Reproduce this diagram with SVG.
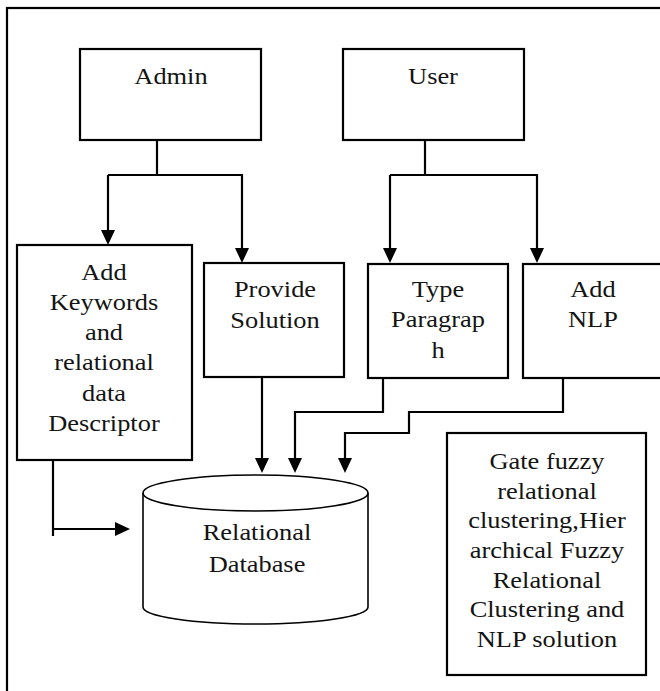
<svg xmlns="http://www.w3.org/2000/svg" width="660" height="691" viewBox="0 0 660 691">
  <style>
    .box { fill: #ffffff; stroke: #000000; stroke-width: 2.2; }
    .frame { fill: none; stroke: #000000; stroke-width: 2.2; }
    .db { fill: #ffffff; stroke: #000000; stroke-width: 1.6; }
    .wire { fill: none; stroke: #000000; stroke-width: 2.2; }
    .arrow { fill: none; stroke: #000000; stroke-width: 2.2; marker-end: url(#head); }
    text { font-family: "Liberation Serif", "Times New Roman", serif; font-size: 24px; fill: #141414; text-anchor: middle; }
  </style>
  <defs>
    <marker id="head" markerUnits="userSpaceOnUse" markerWidth="16" markerHeight="16" refX="5" refY="7" orient="auto">
      <path d="M0,0 L15,7 L0,14 z" fill="#000000"/>
    </marker>
  </defs>

  <rect width="660" height="691" fill="#ffffff"/>
  <!-- outer frame (runs off the right and bottom edges) -->
  <rect class="frame" x="7" y="8" width="680" height="700"/>

  <!-- connectors -->
  <g id="connectors">
    <!-- Admin fan-out -->
    <polyline class="wire" points="157,140 157,175"/>
    <polyline class="arrow" points="108,175 108,235"/>
    <polyline class="arrow" points="108,175 242,175 242,253"/>
    <!-- User fan-out -->
    <polyline class="wire" points="425,140 425,175"/>
    <polyline class="arrow" points="390,175 390,253"/>
    <polyline class="arrow" points="390,175 537,175 537,253"/>
    <!-- into the database -->
    <polyline class="arrow" points="262,377 262,463"/>
    <polyline class="arrow" points="383,378 383,412 295,412 295,463"/>
    <polyline class="arrow" points="563,378 563,412 409,412 409,433 345,433 345,463"/>
    <polyline class="wire" points="53,460 53,536"/>
    <polyline class="arrow" points="53,529 120,529"/>
  </g>

  <g id="admin">
    <rect class="box" x="80" y="49" width="181" height="91"/>
    <g transform="matrix(1.1 0 0 1 -17.1 0)">
      <text x="171" y="84">Admin</text>
    </g>
  </g>

  <g id="user">
    <rect class="box" x="343" y="49" width="181" height="91"/>
    <g transform="matrix(1.1 0 0 1 -43.3 0)">
      <text x="433" y="84">User</text>
    </g>
  </g>

  <g id="add-keywords">
    <rect class="box" x="17" y="245" width="175" height="215"/>
    <g transform="matrix(1.1 0 0 1 -10.4 0)">
      <text x="104" y="280">Add</text>
      <text x="104" y="310">Keywords</text>
      <text x="104" y="340">and</text>
      <text x="104" y="370">relational</text>
      <text x="104" y="401">data</text>
      <text x="104" y="431">Descriptor</text>
    </g>
  </g>

  <g id="provide-solution">
    <rect class="box" x="204" y="263" width="140" height="114"/>
    <g transform="matrix(1.1 0 0 1 -27.5 0)">
      <text x="275" y="297">Provide</text>
      <text x="275" y="328">Solution</text>
    </g>
  </g>

  <g id="type-paragraph">
    <rect class="box" x="368" y="264" width="140" height="114"/>
    <g transform="matrix(1.1 0 0 1 -43.8 0)">
      <text x="438" y="297">Type</text>
      <text x="438" y="327">Paragrap</text>
      <text x="438" y="358">h</text>
    </g>
  </g>

  <g id="add-nlp">
    <rect class="box" x="523" y="264" width="160" height="114"/>
    <g transform="matrix(1.1 0 0 1 -59.3 0)">
      <text x="593" y="297">Add</text>
      <text x="593" y="327">NLP</text>
    </g>
  </g>

  <g id="relational-database">
    <path class="db" d="M143,493 L143,607 A112.5,17 0 0 0 368,607 L368,493"/>
    <ellipse class="db" cx="255.5" cy="493" rx="112.5" ry="18"/>
    <g transform="matrix(1.1 0 0 1 -25.7 0)">
      <text x="257" y="540">Relational</text>
      <text x="257" y="572">Database</text>
    </g>
  </g>

  <g id="clustering-note">
    <rect class="box" x="447" y="433" width="199" height="242"/>
    <g transform="matrix(1.1 0 0 1 -54.7 0)">
      <text x="547" y="469">Gate fuzzy</text>
      <text x="547" y="498.7">relational</text>
      <text x="547" y="528.4">clustering,Hier</text>
      <text x="547" y="558.1">archical Fuzzy</text>
      <text x="547" y="587.8">Relational</text>
      <text x="547" y="617.5">Clustering and</text>
      <text x="547" y="647.2">NLP solution</text>
    </g>
  </g>
</svg>
